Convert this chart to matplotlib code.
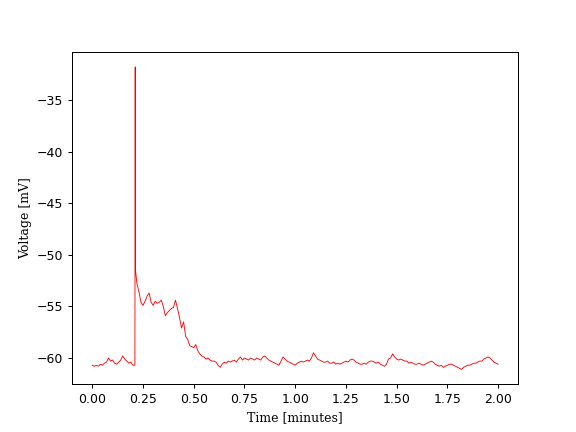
import matplotlib
matplotlib.use('Agg')
import matplotlib.pyplot as plt
import numpy as np

# membrane voltage trace (mV), time in minutes
t_pre = np.arange(0, 22) / 100
v_pre = [-60.7, -60.8, -60.7, -60.8, -60.6, -60.7, -60.5, -60.4, -60.0, -60.3,
         -60.2, -60.5, -60.6, -60.4, -60.2, -59.8, -60.1, -60.3, -60.5, -60.4,
         -60.7, -60.7]

t_spike = [0.2115, 0.2125]
v_spike = [-31.8, -51.4]

t_post = np.arange(22, 201) / 100
v_post = [-52.8, -53.6, -54.6, -54.9, -54.5, -54.0, -53.7, -54.6,
          -54.9, -54.5, -54.7, -54.6, -54.4, -55.0, -55.9, -55.6, -55.4, -55.2,
          -55.1, -54.4, -55.2, -56.1, -57.1, -56.5, -57.9, -58.2, -58.8, -58.9,
          -59.0, -58.7, -59.3, -59.6, -59.8, -59.9, -60.1, -60.0, -60.2, -60.3,
          -60.3, -60.4, -60.7, -60.9, -60.6, -60.4, -60.5, -60.3, -60.4, -60.3,
          -60.2, -60.4, -60.1, -59.9, -60.2, -60.0, -60.1, -60.2, -60.0, -60.1,
          -60.2, -60.0, -60.1, -60.2, -59.9, -59.8, -60.0, -60.2, -60.3, -60.4,
          -60.5, -60.6, -60.7, -60.3, -59.9, -60.1, -60.3, -60.4, -60.5, -60.6,
          -60.7, -60.5, -60.4, -60.3, -60.4, -60.3, -60.2, -60.3, -60.0, -59.5,
          -59.8, -60.1, -60.2, -60.3, -60.4, -60.4, -60.3, -60.5, -60.5, -60.4,
          -60.6, -60.5, -60.6, -60.5, -60.4, -60.3, -60.4, -60.2, -60.1, -60.2,
          -60.4, -60.5, -60.6, -60.6, -60.5, -60.6, -60.4, -60.3, -60.3, -60.4,
          -60.5, -60.4, -60.6, -60.7, -60.8, -60.6, -60.1, -60.0, -59.6, -59.9,
          -60.1, -60.2, -60.1, -60.2, -60.3, -60.3, -60.5, -60.4, -60.5, -60.6,
          -60.6, -60.5, -60.6, -60.7, -60.6, -60.5, -60.4, -60.3, -60.4, -60.6,
          -60.7, -60.8, -60.7, -60.9, -60.8, -60.7, -60.6, -60.6, -60.7, -60.8,
          -60.9, -61.0, -61.1, -60.9, -60.8, -60.7, -60.7, -60.6, -60.5, -60.5,
          -60.4, -60.3, -60.3, -60.1, -60.0, -59.9, -60.0, -60.2, -60.4, -60.5,
          -60.6]

t = np.concatenate([t_pre, t_spike, t_post])
v = np.concatenate([v_pre, v_spike, v_post])

fig, ax = plt.subplots(figsize=(6.4, 4.8), dpi=90)
ax.plot(t, v, color='red', linewidth=0.7)
ax.set_xlabel('Time [minutes]', family='DejaVu Serif')
ax.set_ylabel('Voltage [mV]', family='DejaVu Serif')
fig.savefig('out.png')
